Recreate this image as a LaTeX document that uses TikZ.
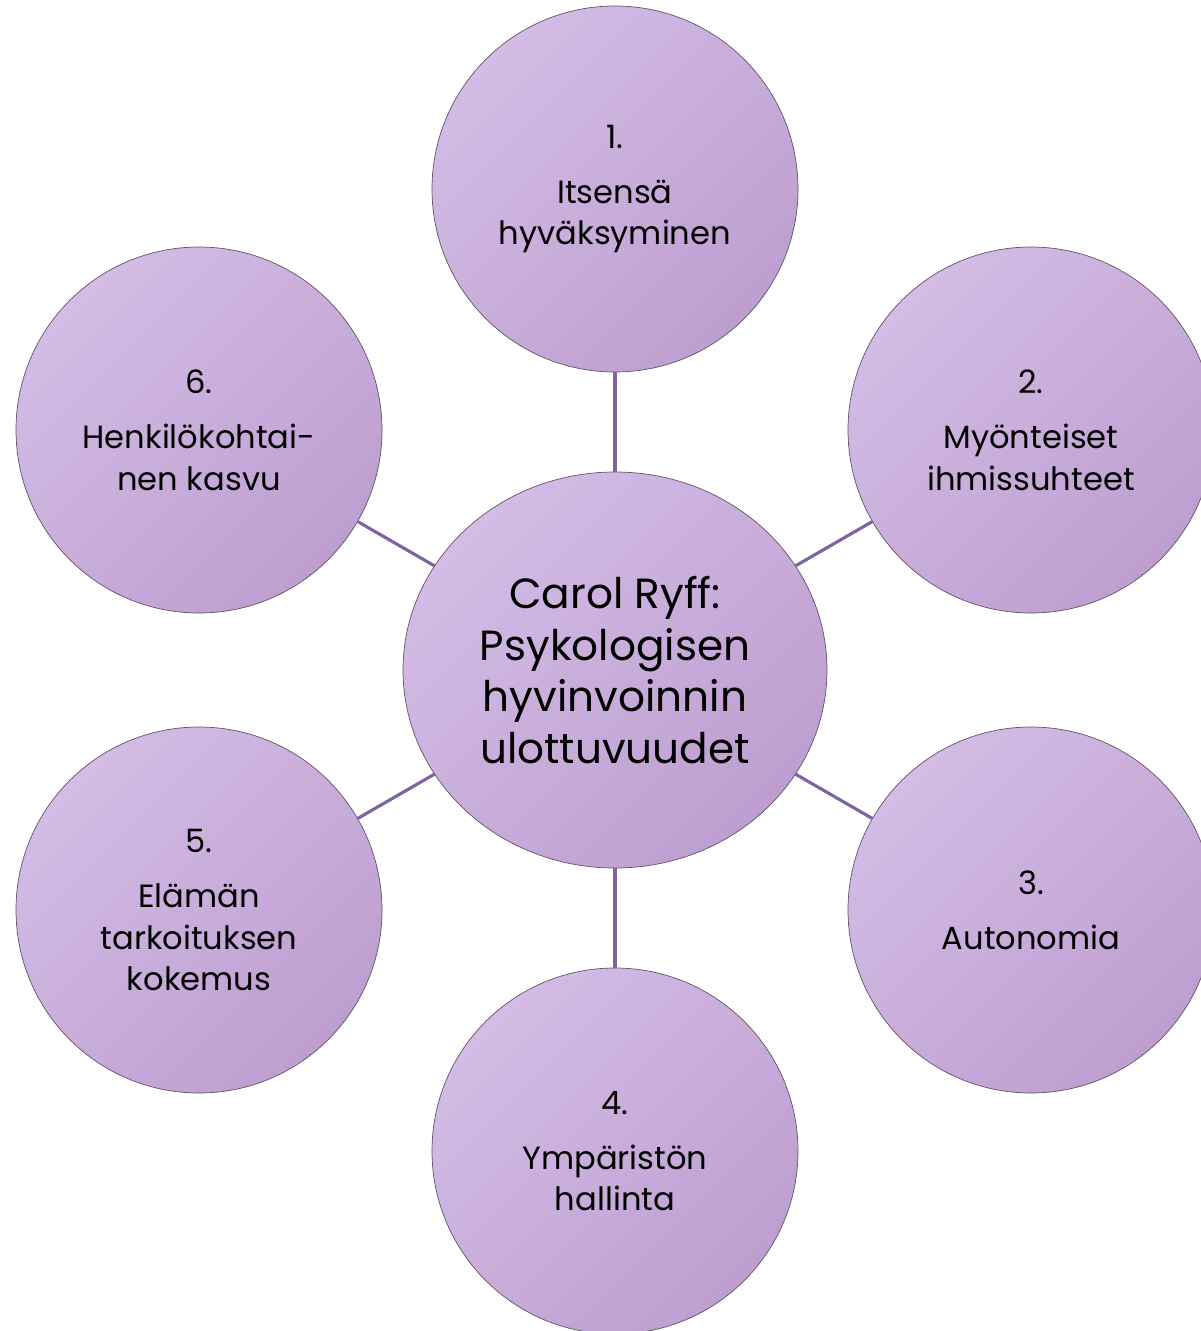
\documentclass[tikz,border=0pt]{standalone}
\usepackage{fontspec}
\setmainfont{Poppins}
\usetikzlibrary{shapes.geometric}
\definecolor{lilacLight}{RGB}{212,188,230}
\definecolor{lilacDark}{RGB}{189,158,208}
\definecolor{spokeLine}{RGB}{128,100,162}
\definecolor{rim}{RGB}{95,85,100}

\begin{document}
\begin{tikzpicture}[x=0.2mm,y=-0.2mm,
    dimension/.style={
% The shape:
circle,
% The size:
minimum size=73.2mm, inner sep=0pt,
% The border:
thin, draw=rim,
% The fill:
top color=lilacLight, bottom color=lilacDark, shading angle=45,
% The text:
align=center, font=\fontsize{18.3}{23.5}\selectfont,
},
    hub/.style={
% The shape:
ellipse,
% The size:
minimum width=84.8mm, minimum height=79.2mm, inner sep=0pt,
% The border:
thin, draw=rim,
% The fill:
top color=lilacLight, bottom color=lilacDark, shading angle=45,
% The text:
align=center, font=\fontsize{24}{29.5}\selectfont,
},
    link/.style={draw=spokeLine, line width=1.8pt},
]
  \useasboundingbox (0,0) rectangle (1201,1331);

  \node[hub] (C) at (615, 670) {Carol Ryff:\\Psykologisen\\hyvinvoinnin\\ulottuvuudet};
  \node[dimension] (D1) at (615, 189) {1.\\[8pt]Itsensä\\hyväksyminen};
  \node[dimension] (D2) at (1031, 430) {2.\\[8pt]Myönteiset\\ihmissuhteet};
  \node[dimension] (D3) at (1031, 910) {3.\\[8pt]Autonomia};
  \node[dimension] (D4) at (615, 1151) {4.\\[8pt]Ympäristön\\hallinta};
  \node[dimension] (D5) at (199, 910) {5.\\[8pt]Elämän\\tarkoituksen\\kokemus};
  \node[dimension] (D6) at (199, 430) {6.\\[8pt]Henkilökohtai-\\nen kasvu};

  \foreach \d in {D1,D2,D3,D4,D5,D6}
    \draw[link] (C) -- (\d);

\end{tikzpicture}
\end{document}
